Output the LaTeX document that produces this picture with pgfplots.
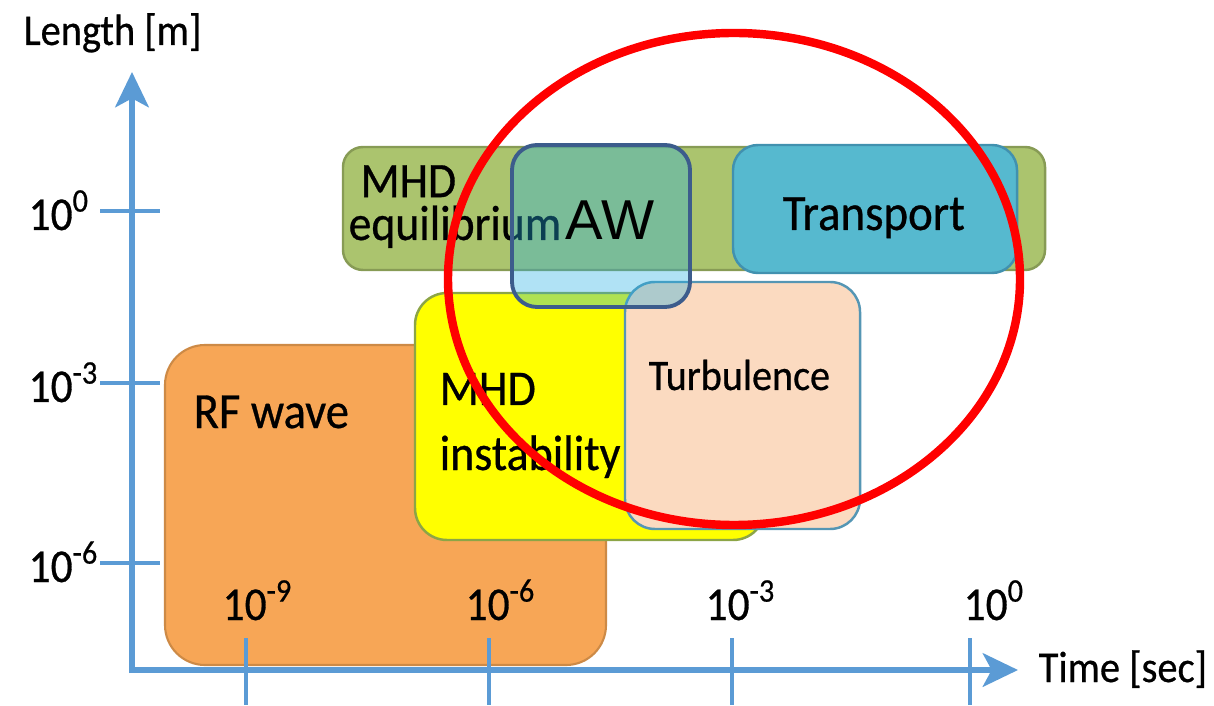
\documentclass[border=0pt]{standalone}
\usepackage{pgfplots}
\pgfplotsset{compat=1.18}
\usetikzlibrary{arrows.meta}
\usepackage{fontspec}
\setmainfont{Carlito}[FakeStretch=0.92,FakeBold=0.6]
\newfontfamily\awfont{Liberation Sans}
\definecolor{axblue}{RGB}{91,155,213}
\definecolor{rff}{RGB}{247,166,86}
\definecolor{rfb}{RGB}{205,138,70}
\definecolor{yf}{RGB}{255,255,0}
\definecolor{yb}{RGB}{140,165,70}
\definecolor{tuf}{RGB}{251,218,192}
\definecolor{tub}{RGB}{85,150,180}
\definecolor{eqf}{RGB}{171,196,110}
\definecolor{eqb}{RGB}{135,155,85}
\definecolor{trf}{RGB}{86,185,207}
\definecolor{trb}{RGB}{65,145,175}
\definecolor{awf}{RGB}{36,175,228}
\definecolor{awb}{RGB}{60,92,140}
\newcommand{\fs}[1]{\fontsize{#1}{#1}\selectfont}
\begin{document}
\begin{tikzpicture}
\begin{axis}[width=12.14cm, height=7.05cm, scale only axis, hide axis,
  xmin=0, xmax=1214, ymin=0, ymax=705, y dir=reverse, clip=false]
\coordinate (BL) at (axis cs:0,705);
\coordinate (TR) at (axis cs:1214,0);
% axes
\addplot[axblue, line width=1.7pt, -{Stealth[length=10pt,width=9.5pt,inset=2.5pt]}] coordinates {(132,673) (132,72)};
\addplot[axblue, line width=1.7pt, -{Stealth[length=10pt,width=9.5pt,inset=2.5pt]}] coordinates {(130,670) (1018,670)};
% y ticks
\addplot[axblue, line width=1.1pt] coordinates {(100,211) (160,211)};
\addplot[axblue, line width=1.1pt] coordinates {(100,383) (160,383)};
\addplot[axblue, line width=1.1pt] coordinates {(100,563) (160,563)};
% boxes
\addplot[fill=rff, draw=rfb, line width=0.6pt, rounded corners=0.4cm] coordinates {(385,345) (606,345) (606,665) (165,665) (165,345) (385,345)};
% x ticks
\addplot[axblue, line width=1.1pt] coordinates {(246,638) (246,705)};
\addplot[axblue, line width=1.1pt] coordinates {(489,638) (489,705)};
\addplot[axblue, line width=1.1pt] coordinates {(732,638) (732,705)};
\addplot[axblue, line width=1.1pt] coordinates {(970,638) (970,705)};
\addplot[fill=yf, draw=yb, line width=0.7pt, rounded corners=0.32cm] coordinates {(590,293) (765,293) (765,540) (415,540) (415,293) (590,293)};
\addplot[fill=tuf, draw=tub, line width=0.7pt, rounded corners=0.3cm] coordinates {(742,282) (860,282) (860,529) (625,529) (625,282) (742,282)};
\addplot[fill=eqf, draw=eqb, line width=0.7pt, rounded corners=0.2cm] coordinates {(694,147) (1045,147) (1045,270) (343,270) (343,147) (694,147)};
\addplot[fill=trf, draw=trb, line width=0.7pt, rounded corners=0.25cm] coordinates {(875,145) (1017,145) (1017,273) (733,273) (733,145) (875,145)};
% labels in boxes
\node[anchor=base west, inner sep=0pt, font=\fs{14.4}] at (axis cs:193,428) {RF wave};
\node[anchor=base west, inner sep=0pt, font=\fs{14.2}] at (axis cs:439,405) {MHD};
\node[anchor=base west, inner sep=0pt, font=\fs{14.2}] at (axis cs:439,470) {instability};
\node[anchor=base west, inner sep=0pt, font=\fs{12.4}] at (axis cs:648,390) {Turbulence};
\node[anchor=base west, inner sep=0pt, align=left, font=\fontsize{14.1}{12.2}\selectfont] at (axis cs:348,240) {\hspace*{3.4pt}MHD\\equilibrium};
\node[anchor=base west, inner sep=0pt, font=\fs{14.5}] at (axis cs:782,230) {Transport};
% AW box (translucent)
\addplot[fill=awf, fill opacity=0.36, draw=awb, draw opacity=1, line width=1.1pt, rounded corners=0.25cm] coordinates {(601,145) (690,145) (690,307) (512,307) (512,145) (601,145)};
\node[anchor=base west, inner sep=0pt, font=\awfont\fs{16}] at (axis cs:565,240) {AW};
% tick labels
\node[anchor=base west, inner sep=0pt, font=\fs{13.4}] at (axis cs:28,230) {10\textsuperscript{0}};
\node[anchor=base west, inner sep=0pt, font=\fs{13.4}] at (axis cs:28,402) {10\textsuperscript{-3}};
\node[anchor=base west, inner sep=0pt, font=\fs{13.4}] at (axis cs:28,582) {10\textsuperscript{-6}};
\node[anchor=base west, inner sep=0pt, font=\fs{13.4}] at (axis cs:222,620) {10\textsuperscript{-9}};
\node[anchor=base west, inner sep=0pt, font=\fs{13.4}] at (axis cs:465,620) {10\textsuperscript{-6}};
\node[anchor=base west, inner sep=0pt, font=\fs{13.4}] at (axis cs:705,620) {10\textsuperscript{-3}};
\node[anchor=base west, inner sep=0pt, font=\fs{13.4}] at (axis cs:963,620) {10\textsuperscript{0}};
% axis titles
\node[anchor=base west, inner sep=0pt, font=\fs{12.5}] at (axis cs:23,45) {Length [m]};
\node[anchor=base west, inner sep=0pt, font=\fs{12.5}] at (axis cs:1038,682) {Time [sec]};
% red ellipse
\draw[red, line width=2.4pt] (axis cs:734,279) ellipse [x radius=286, y radius=246];
\end{axis}
\pgfresetboundingbox
\path[use as bounding box] (BL) rectangle (TR);
\end{tikzpicture}
\end{document}
